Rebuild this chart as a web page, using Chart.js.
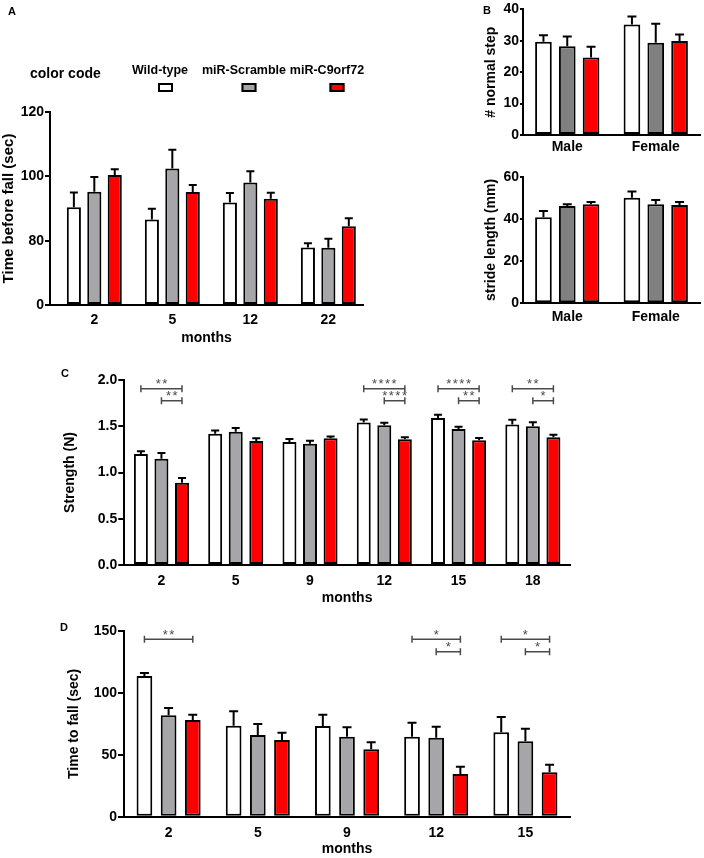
<!DOCTYPE html>
<html><head><meta charset="utf-8">
<script src="https://cdn.jsdelivr.net/npm/chart.js@4.4.1/dist/chart.umd.min.js"></script>
<style>
html,body{margin:0;padding:0;background:#fff;}
#wrap{position:relative;width:704px;height:858px;overflow:hidden;background:#fff;}
#wrap canvas{position:absolute;left:0;top:0;}
</style></head><body>
<div id="wrap">
<canvas id="cA" width="704" height="858"></canvas>
<canvas id="cB1" width="704" height="858"></canvas>
<canvas id="cB2" width="704" height="858"></canvas>
<canvas id="cC" width="704" height="858"></canvas>
<canvas id="cD" width="704" height="858"></canvas>
</div>
<script>
// ---------- data ----------
const seriesNames = ['Wild-type', 'miR-Scramble', 'miR-C9orf72'];

// Panel A: Time before fall (sec)
const monthsA = ['2', '5', '12', '22'];
const wtA = [90.4, 86.6, 91.9, 77.9];
const wtA_sem = [4.6, 3.3, 2.9, 1.3];
const scrA = [95.2, 102.4, 98.1, 77.8];
const scrA_sem = [4.6, 5.9, 3.5, 2.8];
const c9A = [100.4, 95.1, 93.0, 84.5];
const c9A_sem = [1.8, 2.2, 1.9, 2.5];
const axisBreakA = 60;                 // axis is broken: "0" is drawn where 60 would be
const yTicksA = [60, 80, 100, 120];
const yTickLabelsA = ['0', '80', '100', '120'];

// Panel B (top): # normal step
const sexB = ['Male', 'Female'];
const wtStep = [29.7, 35.2];
const wtStep_sem = [2.1, 2.5];
const scrStep = [28.3, 29.4];
const scrStep_sem = [3.1, 6.0];
const c9Step = [24.7, 29.9];
const c9Step_sem = [3.4, 2.1];
const yTicksB1 = [0, 10, 20, 30, 40];
const yTickLabelsB1 = ['0', '10', '20', '30', '40'];

// Panel B (bottom): stride length (mm)
const wtStride = [40.8, 50.0];
const wtStride_sem = [2.9, 3.0];
const scrStride = [46.1, 46.9];
const scrStride_sem = [0.9, 2.0];
const c9Stride = [46.9, 46.6];
const c9Stride_sem = [1.1, 1.4];
const yTicksB2 = [0, 20, 40, 60];
const yTickLabelsB2 = ['0', '20', '40', '60'];

// Panel C: Strength (N)
const monthsC = ['2', '5', '9', '12', '15', '18'];
const wtC = [1.20, 1.42, 1.33, 1.54, 1.59, 1.52];
const wtC_sem = [0.03, 0.033, 0.032, 0.032, 0.034, 0.051];
const scrC = [1.15, 1.44, 1.31, 1.51, 1.47, 1.50];
const scrC_sem = [0.06, 0.04, 0.032, 0.029, 0.025, 0.043];
const c9C = [0.89, 1.34, 1.37, 1.36, 1.35, 1.38];
const c9C_sem = [0.05, 0.029, 0.018, 0.022, 0.022, 0.029];
const yTicksC = [0, 0.5, 1, 1.5, 2];
const yTickLabelsC = ['0.0', '0.5', '1.0', '1.5', '2.0'];
const sigC_wtVsC9 = ['**', '', '', '****', '****', '**'];
const sigC_scrVsC9 = ['**', '', '', '****', '**', '*'];
const bracketLevelsC = [1.906, 1.776];

// Panel D: Time to fall (sec)
const monthsD = ['2', '5', '9', '12', '15'];
const wtD = [113.6, 73.5, 73.3, 64.6, 68.2];
const wtD_sem = [2.5, 11.6, 9.1, 11.3, 12.3];
const scrD = [81.9, 66.0, 64.6, 63.8, 60.9];
const scrD_sem = [5.9, 8.9, 7.6, 8.9, 10.2];
const c9D = [78.1, 62.0, 54.4, 34.5, 35.9];
const c9D_sem = [4.3, 5.9, 5.7, 5.9, 6.1];
const yTicksD = [0, 50, 100, 150];
const yTickLabelsD = ['0', '50', '100', '150'];
const sigD_wtVsC9 = ['**', '', '', '*', '*'];
const sigD_scrVsC9 = ['', '', '', '*', '*'];
const bracketLevelsD = [143.3, 133.3];

// ---------- styling ----------
const FONT = '"Liberation Sans", Arial, Helvetica, sans-serif';
Chart.defaults.font.family = FONT;
Chart.defaults.color = '#000';
const WHITE = '#ffffff', GRAY = '#a6a6a8', GRAY_B = '#808080', RED = '#ff0000';

// ---------- plugins ----------
const errorBarsPlugin = {
  id: 'errorBars',
  afterDatasetsDraw(chart, args, opts) {
    const ctx = chart.ctx, ys = chart.scales.y;
    const cap = opts.cap || 8;
    ctx.save();
    ctx.strokeStyle = '#000';
    ctx.lineWidth = 2;
    ctx.lineCap = 'butt';
    chart.data.datasets.forEach((ds, di) => {
      if (!ds.errors) return;
      const meta = chart.getDatasetMeta(di);
      meta.data.forEach((bar, j) => {
        const top = ys.getPixelForValue(ds.data[j] + ds.errors[j]);
        ctx.beginPath();
        ctx.moveTo(bar.x, bar.y);
        ctx.lineTo(bar.x, top);
        ctx.moveTo(bar.x - cap / 2, top);
        ctx.lineTo(bar.x + cap / 2, top);
        ctx.stroke();
      });
    });
    ctx.restore();
  }
};

const bracketPlugin = {
  id: 'sigBrackets',
  afterDatasetsDraw(chart, args, opts) {
    const sets = opts.sets;
    if (!sets || !sets.length) return;
    const ctx = chart.ctx, ys = chart.scales.y;
    ctx.save();
    ctx.strokeStyle = '#4a4a4a';
    ctx.fillStyle = '#4a4a4a';
    ctx.lineWidth = 1.5;
    ctx.font = '13px ' + FONT;
    ctx.textAlign = 'center';
    ctx.textBaseline = 'alphabetic';
    try { ctx.letterSpacing = '1.5px'; } catch (e) {}
    for (const set of sets) {
      const mFrom = chart.getDatasetMeta(set.from), mTo = chart.getDatasetMeta(set.to);
      const py = ys.getPixelForValue(set.level);
      set.labels.forEach((lab, j) => {
        if (!lab) return;
        const x1 = mFrom.data[j].x, x2 = mTo.data[j].x;
        ctx.beginPath();
        ctx.moveTo(x1, py); ctx.lineTo(x2, py);
        ctx.moveTo(x1, py - 3.5); ctx.lineTo(x1, py + 3.5);
        ctx.moveTo(x2, py - 3.5); ctx.lineTo(x2, py + 3.5);
        ctx.stroke();
        ctx.fillText(lab, (x1 + x2) / 2 + 0.75, py - 0.5);
      });
    }
    ctx.restore();
  }
};

const letterPlugin = {
  id: 'panelLetter',
  afterDraw(chart, args, opts) {
    if (!opts.text) return;
    const ctx = chart.ctx;
    ctx.save();
    ctx.font = 'bold 11px ' + FONT;
    ctx.fillStyle = '#000';
    ctx.textBaseline = 'alphabetic';
    ctx.textAlign = 'left';
    ctx.fillText(opts.text, opts.x, opts.y);
    ctx.restore();
  }
};

const colorCodePlugin = {
  id: 'colorCode',
  afterDraw(chart, args, opts) {
    if (!opts.title) return;
    const ctx = chart.ctx;
    ctx.save();
    ctx.fillStyle = '#000';
    ctx.textBaseline = 'alphabetic';
    ctx.textAlign = 'left';
    ctx.font = 'bold 14px ' + FONT;
    ctx.fillText(opts.title, opts.titleX, opts.titleY);
    ctx.font = 'bold 12.5px ' + FONT;
    ctx.textAlign = 'center';
    chart.data.datasets.forEach((ds, i) => {
      ctx.fillStyle = '#000';
      ctx.fillText(ds.label, opts.textX[i], opts.textY);
      const bx = opts.boxX[i] - 7.5, by = opts.boxY;
      ctx.fillStyle = ds.backgroundColor;
      ctx.fillRect(bx, by, 15, 9);
      ctx.strokeStyle = '#000';
      ctx.lineWidth = 2;
      ctx.strokeRect(bx + 1, by + 1, 13, 7);
    });
    ctx.restore();
  }
};

Chart.register(errorBarsPlugin, bracketPlugin, letterPlugin, colorCodePlugin);

// ---------- helpers ----------
function yAxis(c) {
  return {
    type: 'linear', position: 'left', min: c.min, max: c.max, bounds: 'data', beginAtZero: false,
    afterBuildTicks: s => { s.ticks = c.ticks.map(v => ({ value: v })); },
    afterFit: s => { s.width = c.width; },
    ticks: {
      callback: v => c.labels[c.ticks.indexOf(v)],
      font: { size: 14, weight: 'bold' }, color: '#000', padding: c.tickPad
    },
    grid: { display: true, drawOnChartArea: false, drawTicks: true, tickLength: c.tickLen, color: '#000', lineWidth: 2 },
    border: { display: true, color: '#000', width: 2 },
    title: { display: true, text: c.title, font: { size: c.titleSize || 14, weight: 'bold' }, color: '#000', padding: 0 }
  };
}
function xAxis(c) {
  return {
    type: 'linear', position: 'bottom', min: c.min, max: c.max, bounds: 'data', offset: false,
    afterBuildTicks: s => { s.ticks = c.labels.map((_, i) => ({ value: i })); },
    afterFit: s => { s.height = c.height; },
    ticks: {
      callback: v => c.labels[v], autoSkip: false, maxRotation: 0,
      font: { size: 14, weight: 'bold' }, color: '#000', padding: c.tickPad
    },
    grid: { display: false, drawTicks: false },
    border: { display: true, color: '#000', width: 2 },
    title: c.title ? { display: true, text: c.title, font: { size: 14, weight: 'bold' }, color: '#000', padding: 0 } : { display: false }
  };
}
function bars(label, data, errors, color, catPct, barPct, extra) {
  return Object.assign({
    label, data, errors, backgroundColor: color, borderColor: '#000', borderWidth: 2,
    borderSkipped: false, categoryPercentage: catPct, barPercentage: barPct
  }, extra || {});
}
function makeChart(id, c) {
  return new Chart(document.getElementById(id), {
    type: 'bar',
    data: { labels: c.categories.map((_, i) => i), datasets: c.datasets },
    options: {
      responsive: false, animation: false, events: [],
      layout: { autoPadding: false, padding: c.padding },
      plugins: {
        legend: { display: false }, tooltip: { enabled: false },
        errorBars: { cap: c.cap },
        sigBrackets: { sets: c.brackets || [] },
        panelLetter: c.letter,
        colorCode: c.colorCode || {}
      },
      scales: { x: c.x, y: c.y }
    }
  });
}

// ---------- Panel A ----------
makeChart('cA', {
  categories: monthsA,
  padding: { left: 0, right: 341, top: 112, bottom: 511.6 },
  cap: 8,
  datasets: [
    bars(seriesNames[0], wtA, wtA_sem, WHITE, 0.786, 0.69, { base: axisBreakA }),
    bars(seriesNames[1], scrA, scrA_sem, GRAY, 0.786, 0.69, { base: axisBreakA }),
    bars(seriesNames[2], c9A, c9A_sem, RED, 0.786, 0.69, { base: axisBreakA })
  ],
  x: xAxis({ labels: monthsA, min: -0.568, max: 3.444, height: 41.4, tickPad: 7, title: 'months' }),
  y: yAxis({ min: axisBreakA, max: 120, ticks: yTicksA, labels: yTickLabelsA, width: 50, tickPad: 1, tickLen: 5, title: 'Time before fall (sec)', titleSize: 15 }),
  letter: { text: 'A', x: 8, y: 15 },
  colorCode: { title: 'color code', titleX: 30, titleY: 77.5, textX: [160, 244, 327], textY: 74, boxX: [165.5, 249, 337], boxY: 83 }
});

// ---------- Panel B top ----------
makeChart('cB1', {
  categories: sexB,
  padding: { left: 482.4, right: 4, top: 8, bottom: 698 },
  cap: 9,
  datasets: [
    bars(seriesNames[0], wtStep, wtStep_sem, WHITE, 0.807, 0.70),
    bars(seriesNames[1], scrStep, scrStep_sem, GRAY_B, 0.807, 0.70),
    bars(seriesNames[2], c9Step, c9Step_sem, RED, 0.807, 0.70)
  ],
  x: xAxis({ labels: sexB, min: -0.5, max: 1.5, height: 25, tickPad: 4 }),
  y: yAxis({ min: 0, max: 40, ticks: yTicksB1, labels: yTickLabelsB1, width: 40.6, tickPad: 1, tickLen: 3, title: '# normal step' }),
  letter: { text: 'B', x: 483, y: 14 }
});

// ---------- Panel B bottom ----------
makeChart('cB2', {
  categories: sexB,
  padding: { left: 482.4, right: 4, top: 176.7, bottom: 529.7 },
  cap: 9,
  datasets: [
    bars(seriesNames[0], wtStride, wtStride_sem, WHITE, 0.807, 0.70),
    bars(seriesNames[1], scrStride, scrStride_sem, GRAY_B, 0.807, 0.70),
    bars(seriesNames[2], c9Stride, c9Stride_sem, RED, 0.807, 0.70)
  ],
  x: xAxis({ labels: sexB, min: -0.5, max: 1.5, height: 25, tickPad: 5.5 }),
  y: yAxis({ min: 0, max: 60, ticks: yTicksB2, labels: yTickLabelsB2, width: 40.6, tickPad: 1, tickLen: 3, title: 'stride length (mm)' }),
  letter: {}
});

// ---------- Panel C ----------
makeChart('cC', {
  categories: monthsC,
  padding: { left: 62.1, right: 134, top: 380, bottom: 251.6 },
  cap: 8,
  datasets: [
    bars(seriesNames[0], wtC, wtC_sem, WHITE, 0.83, 0.68),
    bars(seriesNames[1], scrC, scrC_sem, GRAY, 0.83, 0.68),
    bars(seriesNames[2], c9C, c9C_sem, RED, 0.83, 0.68)
  ],
  brackets: [
    { from: 0, to: 2, level: bracketLevelsC[0], labels: sigC_wtVsC9 },
    { from: 1, to: 2, level: bracketLevelsC[1], labels: sigC_scrVsC9 }
  ],
  x: xAxis({ labels: monthsC, min: -0.5, max: 5.5, height: 41.4, tickPad: 7.4, title: 'months' }),
  y: yAxis({ min: 0, max: 2, ticks: yTicksC, labels: yTickLabelsC, width: 62.2, tickPad: 1, tickLen: 6, title: 'Strength (N)' }),
  letter: { text: 'C', x: 61, y: 377 }
});

// ---------- Panel D ----------
makeChart('cD', {
  categories: monthsD,
  padding: { left: 65.6, right: 134, top: 631, bottom: 0.1 },
  cap: 9,
  datasets: [
    bars(seriesNames[0], wtD, wtD_sem, WHITE, 0.813, 0.65),
    bars(seriesNames[1], scrD, scrD_sem, GRAY, 0.813, 0.65),
    bars(seriesNames[2], c9D, c9D_sem, RED, 0.813, 0.65)
  ],
  brackets: [
    { from: 0, to: 2, level: bracketLevelsD[0], labels: sigD_wtVsC9 },
    { from: 1, to: 2, level: bracketLevelsD[1], labels: sigD_scrVsC9 }
  ],
  x: xAxis({ labels: monthsD, min: -0.5, max: 4.5, height: 41.2, tickPad: 7.7, title: 'months' }),
  y: yAxis({ min: 0, max: 150, ticks: yTicksD, labels: yTickLabelsD, width: 58.4, tickPad: 1, tickLen: 6, title: 'Time to fall (sec)' }),
  letter: { text: 'D', x: 60, y: 630.5 }
});
</script>
</body></html>
